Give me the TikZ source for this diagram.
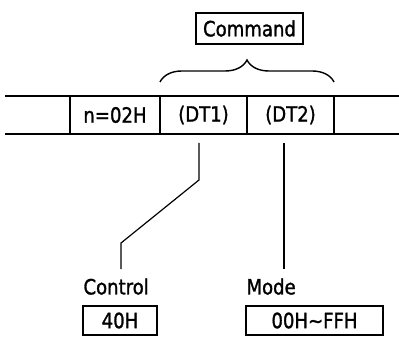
\documentclass[tikz,border=0pt]{standalone}
\usepackage{fontspec}
\newfontfamily\plcfont[FakeStretch=0.86, FakeBold=1.3]{DejaVu Sans}
\usetikzlibrary{positioning, decorations.pathreplacing}

\begin{document}
\begin{tikzpicture}[x=0.5pt, y=-0.5pt,
          cell/.style={draw, line width=1.2pt, outer sep=0pt, inner sep=0pt,
              minimum height=19pt, font=\plcfont\fontsize{10.5}{12}\selectfont},
          tag/.style={draw, line width=0.9pt, inner sep=0pt, minimum height=14.5pt,
              font=\plcfont\fontsize{10.5}{12}\selectfont},
          lbl/.style={inner sep=0pt, font=\plcfont\fontsize{10.5}{12}\selectfont},
          rail/.style={line width=1.4pt},
          leader/.style={line width=0.6pt},
          brace/.style={decorate, decoration={brace, amplitude=11pt}, line width=0.7pt}
        ]
        \useasboundingbox (0,0) rectangle (399,346);
        % frame cells
        \draw[rail] (5,96)  -- (399,96);
        \draw[rail] (5,134) -- (399,134);
        \node[cell, minimum width=45pt] (nbyte) at (115,115) {n=02H};
        \node[cell, minimum width=43.5pt, right=0pt of nbyte] (dt1) {(DT1)};
        \node[cell, minimum width=43.5pt, right=0pt of dt1]   (dt2) {(DT2)};
        % command
        \node[tag, minimum width=53.5pt, minimum height=15.5pt] (cmd) at (249.5,28.5) {Command};
        \draw[brace] ([yshift=7pt]dt1.north west) -- ([yshift=7pt]dt2.north east);
        % values
        \node[tag, minimum width=37pt]   (v40)   at (120,320.5)   {40H};
        \node[tag, minimum width=68.5pt] (vmode) at (314.5,320.5) {00H∼FFH};
        \node[lbl, above right=5pt and 0.5pt of v40.north west]   (ctl)  {Control};
        \node[lbl, above right=5pt and 0.5pt of vmode.north west] (mode) {Mode};
        % leaders
        \coordinate (k0) at (199,143);
        \coordinate (k1) at (199,180);
        \coordinate (k2) at (121,243);
        \coordinate (k3) at (121,269);
        \coordinate (m0) at (284,143);
        \coordinate (m1) at (284,269);
        \draw[leader] (k0) -- (k1) -- (k2) -- (k3);
        \draw[leader] (m0) -- (m1);
      \end{tikzpicture}
\end{document}
